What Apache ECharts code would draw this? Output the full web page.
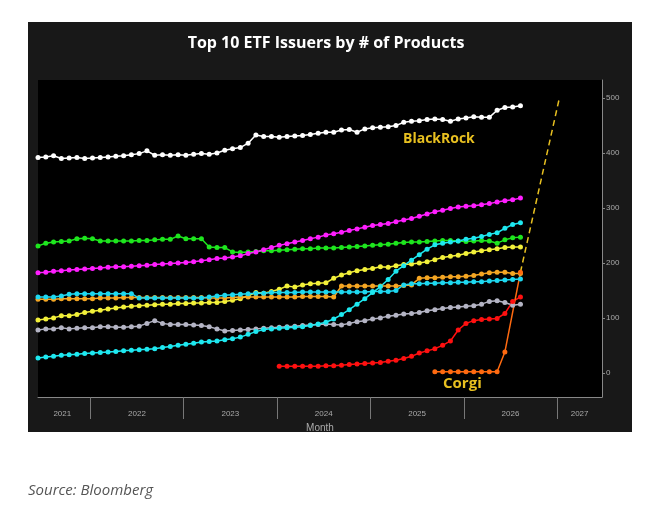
<!DOCTYPE html>
<html>
<head>
<meta charset="utf-8">
<script src="https://cdn.jsdelivr.net/npm/echarts@6/dist/echarts.min.js"></script>
<style>body{margin:0;background:#fff}#chart{width:652px;height:520px}</style>
</head>
<body>
<div id="chart"></div>
<script>
// monthly points, first one at mid-2021
const startYear = 2021.44

const blackrock = [392,393,395,390,391,392,390,391,392,393,394,395,397,399,404,
  396,397,396,397,396,398,399,398,400, 405,408,410,418, 433,
  430,430,429,430,431,432,434,436,438,
  438,442,443,438,444,446,447,448,450,456,458,459,461,462,461,458,462,464,466,465,465,478,483,484,486]
const green = [231,236,238,239,240, 244,245,244,240,240,240,240,240,241,241,242,243,243, 249, 244,244,244, 229, 228,228, 220,
  219,220,221,222,222,223,224,225,226,226,227,227,
  227,228,229,230,231,232,233,234,236,237,238,238,239,240,241,241,240,239,240,241,240,236,242,246,247]
const magenta = [182,183,185,186,187,188,189,190,191,192,193,193,194,195,196,197,198,199,200,201,202,204,206,208,209,211,213,
  217,220,224,228,232,235,238,241,244,247,251,
  253,256,259,262,265,268,270,272,275,
  278,281,285,289,293,296,299,302,
  303,304,306,308,311,313,315,318]
const cyanLow = [27,29,30,32,33,34,35,36,37,38,39, 40,41,42,43,44,
  46,48,50,52,54,56,57,58,60,62,65,
  70,75,79,80,81,82,83,84,86,89,92,
  98,106,115,125,135,146,157,170,185,
  195,205,215,225,233,236,238,240,243,245,248,252,255,263,270,273]
const cyanHigh = [138,138,138,140,143, 144,144,144,144,144,144,144,144,
  136,136,136,136,136,136,136,136,136,138,
  140,141,142,143,144,145,145,146,146,146,146,147,147,147,147,
  147,147,147,147,147,148,148,148,150,160,
  162,162,163,163,164,164,165,165,166,166,167,168,169,170,171]
const orange = [134,134,134,135,135,135,135,135,136,136,136,137,137,137,
  137,137,137,137,137,137,137,137,136,136,136,137,138,138,138,138,138,138,138,138,139,139,139,139,138,
  158,158,158,158,158,158,158,158,159,160,
  172,173,173,174,175,175,176,177,180,182,183,183,181,181]
const yellow = [96,98,100,104,104,106,110,112,114,116,118,120,121,
  122,123,124,125,125,126,126,127,127,128,128,130,132,
  135,140,146,145,148,152,158,156,160,162,163,164,
  172,178,182,186,188,190,193,192,195,197,198,200,202,
  206,210,212,214,217,220,222,224,226,228,229,229]
const gray = [78,80,80,82,80,81,82,82,84,84,83,83,84,85,90, 95,90,
  88,88,88,87,86,84,80,
  76,77,78,79,80,81,82,83,84,85,86,87,88,89,
  88,87,90,93,95,98,100,103,105,107,108,110,113,115,117,119,120,121,122,125,130,131,128,123,125]
const redStart = 31
const red = [12,12,12,12,12,12,13,13,14,15,16,17,18,19,21,23,26,30,36,40,44,50,58,78,90,95,97,98,99,108,130,138]
const corgiStart = 51
const corgi = [2,2,2,2,2,2,2,2,2,38,null,183]
// dashed projection: [month index, value]
const projection = [[62,183],[67,500]]

const yTicks = [0,100,200,300,400,500]
const yearBreaks = [2022,2023,2024,2025,2026,2027]
const yearLabelPos = [2021.7,2022.5,2023.5,2024.5,2025.5,2026.5,2027.24]

const toPairs = (arr, offset) => arr.map((v, i) => [startYear + (i + (offset || 0)) / 12, v])

const mk = (name, arr, color, offset) => ({
  name: name, type: 'line', data: toPairs(arr, offset), connectNulls: true,
  symbol: 'circle', symbolSize: 5, showSymbol: true,
  lineStyle: { color: color, width: 1.5 }, itemStyle: { color: color }
})

const chart = echarts.init(document.getElementById('chart'))
chart.setOption({
  animation: false,
  backgroundColor: '#fff',
  graphic: [
    { type: 'rect', z: -10, shape: { x: 28, y: 22, width: 604, height: 410 }, style: { fill: '#181818' } },
    { type: 'text', left: 'center', top: 35, style: { text: 'Top 10 ETF Issuers by # of Products', fill: '#fff', font: 'bold 16px "Open Sans", sans-serif' } },
    { type: 'text', x: 403, y: 132, z: 100, style: { text: 'BlackRock', fill: '#e8c020', font: 'bold 14px "Open Sans", sans-serif' } },
    { type: 'text', x: 443, y: 376, z: 100, style: { text: 'Corgi', fill: '#e8c020', font: 'bold 15px "Open Sans", sans-serif' } },
    { type: 'text', x: 28, y: 483, style: { text: 'Source: Bloomberg', fill: '#555', font: 'italic 15px "Open Sans", sans-serif' } }
  ],
  grid: { left: 38, right: 50, top: 80, bottom: 123, show: true, backgroundColor: '#000', borderWidth: 0 },
  xAxis: {
    type: 'value', min: startYear, max: 2027.48,
    name: 'Month', nameLocation: 'middle', nameGap: 26,
    nameTextStyle: { color: '#aaa', fontSize: 10 },
    axisLine: { onZero: false, lineStyle: { color: '#888' } },
    axisTick: { customValues: yearBreaks, length: 22, lineStyle: { color: '#777' } },
    axisLabel: { customValues: yearLabelPos, formatter: v => String(Math.floor(v)), color: '#aaa', fontSize: 8, margin: 13 },
    splitLine: { show: false }
  },
  yAxis: {
    type: 'value', position: 'right', min: -44, max: 533,
    axisLine: { show: true, lineStyle: { color: '#888' } },
    axisTick: { show: true, customValues: yTicks, length: 3, lineStyle: { color: '#888' } },
    axisLabel: { customValues: yTicks, color: '#aaa', fontSize: 8, margin: 4 },
    splitLine: { show: false }
  },
  series: [
    mk('BlackRock', blackrock, '#ffffff'),
    mk('Green', green, '#1ee61e'),
    mk('Magenta', magenta, '#ff1eff'),
    mk('Yellow', yellow, '#f2f03a'),
    mk('Orange', orange, '#f5a623'),
    mk('Cyan 2', cyanHigh, '#1ed8f0'),
    mk('Gray', gray, '#b4b4c4'),
    mk('Cyan', cyanLow, '#1ee8f0'),
    mk('Red', red, '#ff1010', redStart),
    mk('Corgi', corgi, '#ff6a10', corgiStart),
    {
      name: 'Projection', type: 'line', symbol: 'none',
      data: projection.map(p => [startYear + p[0] / 12, p[1]]),
      lineStyle: { color: '#e8c020', width: 1.5, type: [6, 4] }
    }
  ]
})
</script>
</body>
</html>
